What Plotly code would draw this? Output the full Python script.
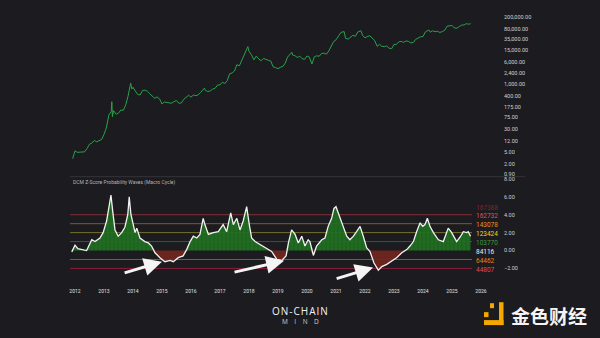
import plotly.graph_objects as go

# ---------------- data ----------------
price_t = [2011.92,
    2012.00, 2012.08, 2012.17, 2012.25, 2012.33, 2012.42, 2012.50, 2012.58, 2012.67, 2012.75, 2012.83, 2012.92,
    2013.00, 2013.08, 2013.17, 2013.25, 2013.27, 2013.29, 2013.33, 2013.42, 2013.50, 2013.58, 2013.67, 2013.75, 2013.83, 2013.92, 2013.96,
    2014.00, 2014.08, 2014.17, 2014.25, 2014.33, 2014.42, 2014.50, 2014.58, 2014.67, 2014.75, 2014.83, 2014.92,
    2015.00, 2015.08, 2015.17, 2015.25, 2015.33, 2015.42, 2015.50, 2015.58, 2015.67, 2015.75, 2015.83, 2015.92,
    2016.00, 2016.08, 2016.17, 2016.25, 2016.33, 2016.42, 2016.46, 2016.50, 2016.58, 2016.67, 2016.75, 2016.83, 2016.92,
    2017.00, 2017.08, 2017.17, 2017.25, 2017.33, 2017.42, 2017.50, 2017.58, 2017.67, 2017.75, 2017.83, 2017.96,
    2018.00, 2018.08, 2018.17, 2018.25, 2018.33, 2018.42, 2018.50, 2018.58, 2018.67, 2018.75, 2018.83, 2018.92,
    2019.00, 2019.08, 2019.17, 2019.25, 2019.33, 2019.48, 2019.50, 2019.58, 2019.67, 2019.75, 2019.83, 2019.92,
    2020.00, 2020.08, 2020.17, 2020.25, 2020.33, 2020.42, 2020.50, 2020.58, 2020.67, 2020.75, 2020.83, 2020.92,
    2021.00, 2021.08, 2021.17, 2021.28, 2021.33, 2021.42, 2021.50, 2021.58, 2021.67, 2021.75, 2021.86, 2021.92,
    2022.00, 2022.08, 2022.17, 2022.25, 2022.33, 2022.42, 2022.50, 2022.58, 2022.67, 2022.75, 2022.83, 2022.92,
    2023.00, 2023.08, 2023.17, 2023.25, 2023.33, 2023.42, 2023.50, 2023.58, 2023.67, 2023.75, 2023.83, 2023.92,
    2024.00, 2024.08, 2024.20, 2024.25, 2024.33, 2024.42, 2024.50, 2024.58, 2024.67, 2024.75, 2024.83, 2024.96,
    2025.00, 2025.08, 2025.17, 2025.25, 2025.33, 2025.42, 2025.50, 2025.58, 2025.64]
price_v = [3.0,
    5.5, 4.9, 4.9, 5.0, 5.1, 6.7, 9.3, 10.2, 12.4, 11.2, 12.6, 13.5,
    20, 33, 93, 120, 260, 80, 129, 97, 106, 135, 133, 204, 400, 1100, 700,
    800, 600, 450, 445, 630, 640, 585, 480, 386, 338, 378, 320,
    217, 254, 244, 236, 230, 263, 284, 230, 236, 314, 377, 430,
    368, 437, 416, 448, 531, 673, 750, 624, 575, 609, 700, 742, 963,
    970, 1190, 1080, 1348, 2300, 2480, 2875, 4700, 4340, 6470, 10230, 19500,
    13500, 10400, 6940, 9240, 7500, 6400, 7730, 7030, 6630, 6320, 4020, 3740,
    3460, 3850, 4100, 5350, 8570, 12500, 10100, 9600, 8300, 9200, 7570, 7200,
    9350, 8600, 5000, 8660, 9460, 9140, 11350, 11680, 10780, 13800, 19700, 29000,
    33100, 45200, 58900, 63500, 37300, 35000, 41500, 47100, 43800, 61300, 67500, 46300,
    38500, 43200, 45500, 37700, 31800, 19900, 23300, 20000, 19400, 20500, 17200, 16500,
    23100, 23100, 28500, 29300, 27200, 30500, 29200, 26000, 27000, 34500, 37700, 42300,
    42600, 61200, 72000, 60600, 67500, 62700, 64600, 59000, 63300, 70200, 96400, 105000,
    102400, 84400, 82500, 94200, 104600, 107100, 118000, 112000, 118000]

z_t = [2011.89, 2012.00, 2012.10, 2012.40, 2012.58, 2012.69, 2012.86, 2012.97, 2013.09, 2013.18,
       2013.24, 2013.30, 2013.38, 2013.49, 2013.61, 2013.72, 2013.82, 2013.87, 2013.93, 2014.01,
       2014.07, 2014.13, 2014.24, 2014.41, 2014.53, 2014.64, 2014.76, 2014.93, 2015.10, 2015.28,
       2015.39, 2015.56, 2015.73, 2015.85, 2015.97, 2016.08, 2016.20, 2016.31, 2016.42, 2016.48,
       2016.60, 2016.77, 2016.94, 2017.11, 2017.23, 2017.37, 2017.46, 2017.58, 2017.69, 2017.80,
       2017.92, 2018.01, 2018.09, 2018.21, 2018.38, 2018.61, 2018.78, 2018.96, 2019.13, 2019.28,
       2019.36, 2019.47, 2019.59, 2019.70, 2019.82, 2019.93, 2020.04, 2020.10, 2020.22, 2020.33,
       2020.51, 2020.62, 2020.73, 2020.85, 2020.93, 2021.00, 2021.08, 2021.16, 2021.25, 2021.37,
       2021.48, 2021.60, 2021.71, 2021.83, 2021.94, 2022.06, 2022.17, 2022.31, 2022.46, 2022.58,
       2022.75, 2022.92, 2023.09, 2023.27, 2023.44, 2023.55, 2023.67, 2023.78, 2023.90, 2023.99,
       2024.07, 2024.15, 2024.24, 2024.36, 2024.53, 2024.70, 2024.87, 2024.99, 2025.16, 2025.30,
       2025.39, 2025.51, 2025.56, 2025.64]
z_v = [-0.15, 0.6, 0.2, 0.0, 1.2, 1.0, 1.4, 2.0, 3.3, 4.8,
       6.2, 4.4, 2.3, 1.6, 2.0, 2.6, 4.0, 6.0, 4.0, 2.9,
       2.0, 2.5, 1.4, 1.0, 0.85, 0.5, -0.25, -0.8, -1.25, -1.1,
       -1.25, -0.8, -0.6, 0.1, 1.0, 1.6, 1.4, 1.8, 3.6, 2.9,
       1.8, 2.0, 2.1, 2.9, 2.1, 4.2, 2.9, 3.6, 2.3, 3.3,
       4.9, 2.9, 1.4, 1.0, 0.7, 0.2, -0.1, -1.0, -1.1, -0.6,
       0.85, 2.3, 1.8, 0.85, 1.6, 0.5, 1.2, 1.0, -0.55, 0.5,
       1.2, 1.4, 2.7, 3.6, 4.7, 4.9, 4.2, 3.3, 2.7, 1.6,
       1.2, 1.6, 2.1, 2.7, 1.6, 0.3, -0.1, -1.4, -2.2, -1.8,
       -1.55, -1.2, -0.8, -0.25, 0.1, 0.5, 1.0, 2.1, 3.1, 2.7,
       2.9, 3.6, 2.7, 2.0, 1.2, 1.0, 2.5, 2.0, 1.0, 1.6,
       2.1, 2.0, 2.1, 1.6]

price_ticks = [200000, 80000, 35000, 15000, 6000, 2400, 1000, 400, 175, 75, 30, 12, 5, 2, 0.9]
price_tick_text = ["200,000.00", "80,000.00", "35,000.00", "15,000.00", "6,000.00", "2,400.00",
                   "1,000.00", "400.00", "175.00", "75.00", "30.00", "12.00", "5.00", "2.00", "0.90"]
z_ticks = [8, 6, 4, 2, 0, -2]
z_tick_text = ["8.00", "6.00", "4.00", "2.00", "0.00", "\u22122.00"]
year_ticks = list(range(2012, 2027))

level_z = [4, 3, 2, 1, -1, -2]
level_colors = ["#843036", "#86591d", "#75712a", "#2b5f2c", "#9a5a10", "#8c1f3b"]
band_z = [4.85, 4, 3, 2, 1, 0, -1, -2]
band_labels = ["167388", "162732", "143078", "123424", "103770", "84116", "64462", "44807"]
band_colors = ["#8f1f22", "#e0505a", "#f0901c", "#e6d82a", "#3f9a3c", "#f0f0f0", "#e8861a", "#e04a56"]

arrows = [  # (tail_t, tail_z, tip_t, tip_z)
    (2013.66, -2.55, 2015.00, -1.25),
    (2017.45, -2.45, 2019.21, -1.15),
    (2020.97, -3.20, 2022.28, -1.90),
]

# ---------------- figure ----------------
BG = "#1b1b20"
FONT = "Roboto"
XR = [2011.552, 2026.483]
DOM = [62 / 600, 495 / 600]

fig = go.Figure()

fig.add_trace(go.Scatter(x=price_t, y=price_v, mode="lines",
                         line=dict(color="#28a34a", width=1),
                         xaxis="x", yaxis="y", hoverinfo="skip"))

z_pos = [max(v, 0) for v in z_v]
z_neg = [min(v, 0) for v in z_v]
fig.add_trace(go.Scatter(x=z_t, y=z_pos, mode="lines", line=dict(width=0),
                         fill="tozeroy", fillcolor="rgba(30,110,32,0.9)",
                         fillpattern=dict(shape="|", fgcolor="rgba(70,160,70,0.35)",
                                          bgcolor="rgba(30,108,32,0.92)", size=4, solidity=0.2),
                         xaxis="x2", yaxis="y2", hoverinfo="skip"))
fig.add_trace(go.Scatter(x=z_t, y=z_neg, mode="lines", line=dict(width=0),
                         fill="tozeroy", fillcolor="rgba(112,38,32,0.95)",
                         xaxis="x2", yaxis="y2", hoverinfo="skip"))

shapes = []
for lz, lc in zip(level_z, level_colors):
    shapes.append(dict(type="line", xref="x2", yref="y2", x0=2011.83, x1=2025.69,
                       y0=lz, y1=lz, line=dict(color=lc, width=1), layer="below"))
# panel separator
shapes.append(dict(type="line", xref="paper", yref="paper", x0=70 / 600, x1=525 / 600,
                   y0=1 - 176.7 / 338, y1=1 - 176.7 / 338, line=dict(color="#34343a", width=1)))
# logo icon (yellow)
Y = lambda p: 1 - p / 338
X = lambda p: p / 600
for (x0, y0, x1, y1) in [(490, 304, 494, 309), (499, 303, 503.5, 326), (484, 321, 503.5, 326), (484, 313, 488.5, 318)]:
    shapes.append(dict(type="rect", xref="paper", yref="paper", x0=X(x0), x1=X(x1), y0=Y(y1), y1=Y(y0),
                       fillcolor="#f5a800", line=dict(width=0)))

fig.add_trace(go.Scatter(x=z_t, y=z_v, mode="lines", line=dict(color="#f2f2f2", width=1.3),
                         xaxis="x2", yaxis="y2", hoverinfo="skip"))

annotations = []
for bz, bl, bc in zip(band_z, band_labels, band_colors):
    annotations.append(dict(xref="paper", yref="y2", x=474 / 600, y=bz - 0.15, text=bl,
                            showarrow=False, xanchor="left", yanchor="middle",
                            font=dict(family=FONT, size=6.5, color=bc)))
for (tt, tz, ht, hz) in arrows:
    annotations.append(dict(xref="x2", yref="y2", x=ht, y=hz, ax=tt, ay=tz,
                            axref="x2", ayref="y2", showarrow=True, arrowhead=2,
                            arrowsize=1.2, arrowwidth=3, arrowcolor="#f4f4f4", text=""))
annotations.append(dict(xref="paper", yref="paper", x=X(71), y=Y(183),
                        text="DCM Z-Score Probability Waves (Macro Cycle)", showarrow=False,
                        xanchor="left", yanchor="middle", font=dict(family=FONT, size=5, color="#b5b5b5")))
sp = "\u200a"
annotations.append(dict(xref="paper", yref="paper", x=0.5, y=Y(311.5), text=sp.join("ON-CHAIN"),
                        showarrow=False, xanchor="center", yanchor="middle",
                        font=dict(family="Open Sans", size=10, color="#f2f2f2")))
annotations.append(dict(xref="paper", yref="paper", x=0.5, y=Y(322), text="\u2002\u2002".join("MIND"),
                        showarrow=False, xanchor="center", yanchor="middle",
                        font=dict(family="Open Sans", size=6.5, color="#cfcfcf")))
annotations.append(dict(xref="paper", yref="paper", x=X(509), y=Y(316), text="<b>金色财经</b>",
                        showarrow=False, xanchor="left", yanchor="middle",
                        font=dict(family="Noto Sans CJK SC", size=19, color="#f4f4f4")))

axfont = dict(family=FONT, size=5.5, color="#d0d0d0")
fig.update_layout(
    width=600, height=338, margin=dict(l=0, r=0, t=0, b=0),
    paper_bgcolor=BG, plot_bgcolor=BG, showlegend=False,
    shapes=shapes, annotations=annotations,
    xaxis=dict(domain=DOM, range=XR, anchor="y", showticklabels=False, showgrid=False,
               zeroline=False, showline=False),
    xaxis2=dict(domain=DOM, range=XR, anchor="y2", tickvals=year_ticks,
                ticktext=[str(y) for y in year_ticks], tickfont=dict(family=FONT, size=5, color="#e0e0e0"),
                showgrid=False, zeroline=False, showline=False, ticks="", ticklabelstandoff=3),
    yaxis=dict(domain=[1 - 176 / 338, 1 - 5 / 338], type="log", range=[-0.1137, 5.673],
               side="right", anchor="x", tickvals=price_ticks, ticktext=price_tick_text,
               tickfont=axfont, showgrid=False, zeroline=False, showline=False, ticks="",
               ticklabelstandoff=8),
    yaxis2=dict(domain=[1 - 285 / 338, 1 - 177 / 338], range=[-3.778, 8.222],
                side="right", anchor="x2", tickvals=z_ticks, ticktext=z_tick_text,
                tickfont=axfont, showgrid=False, zeroline=False, showline=False, ticks="",
                ticklabelstandoff=8),
)

fig.write_html("out.html")
